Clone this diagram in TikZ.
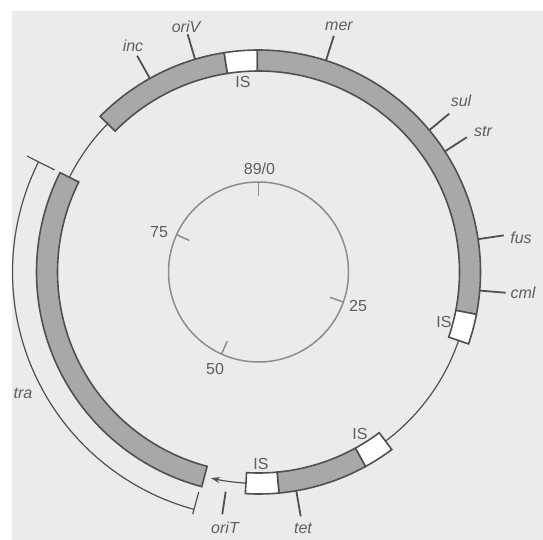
\documentclass[tikz,border=0pt]{standalone}
\usepackage{fontspec}
\setmainfont{Liberation Sans}
\usetikzlibrary{arrows.meta}
\definecolor{bg}{HTML}{EBEBEB}
\definecolor{bandfill}{HTML}{A8A8A8}
\definecolor{ink}{HTML}{505050}
\definecolor{txt}{HTML}{5E5E5E}
\definecolor{innerc}{HTML}{8C8C8C}
\newcommand\annseg[3]{\filldraw[band,fill=#3] (#1:222pt) arc[start angle=#1,end angle=#2,radius=222pt] -- (#2:201pt) arc[start angle=#2,end angle=#1,radius=201pt] -- cycle;}
\begin{document}
\begin{tikzpicture}[
  lbl/.style={font=\fontsize{16}{18}\selectfont, text=txt, inner sep=0pt, anchor=base},
  gene/.style={lbl, font=\fontsize{16}{18}\selectfont\itshape},
  band/.style={draw=ink, line width=1.6pt, line join=miter},
  thinline/.style={draw=ink, line width=1.2pt},
  gtick/.style={draw=ink, line width=1.8pt},
  innertick/.style={draw=innerc, line width=1.5pt}
]
\fill[white] (0,0) rectangle (543pt,-540pt);
\fill[bg] (12pt,-11pt) rectangle (543pt,-540pt);
\useasboundingbox (0,0) rectangle (543pt,-540pt);
\begin{scope}[shift={(258.5pt,-272pt)}]
  % backbone thin lines
  \draw[thinline] (135.5:211.5pt) arc[start angle=135.5,end angle=153.4,radius=211.5pt];
  \draw[thinline] (-19:211.5pt) arc[start angle=-19,end angle=-53.1,radius=211.5pt];
  \draw[thinline,-{Stealth[length=9pt,width=6pt]}] (-93.4:211.5pt) arc[start angle=-93.4,end angle=-103,radius=211.5pt];
  % bands
  \annseg{98.9}{135.5}{bandfill}
  \annseg{90.3}{98.9}{white}
  \annseg{-11}{90.3}{bandfill}
  \annseg{-18.9}{-11}{white}
  \annseg{-61.2}{-53.1}{white}
  \annseg{-84.7}{-61.2}{bandfill}
  \annseg{-93.4}{-84.7}{white}
  \annseg{153.4}{255.2}{bandfill}
  % gene ticks
  \foreach \a in {119.3,106.6,72.3,39.7,32.9,8.5,-4.8,-80.2}
    \draw[gtick] (\a:222pt) -- (\a:248pt);
  \draw[gtick] (-98.5:222pt) -- (-98.5:245pt);
  % tra bracket
  \draw[thinline] (153.4:246pt) arc[start angle=153.4,end angle=254.8,radius=246pt];
  \draw[thinline] (153.4:228pt) -- (153.4:259pt);
  \draw[thinline] (254.8:228pt) -- (254.8:251pt);
  % inner map circle
  \draw[innertick] (0,0) circle[radius=90pt];
  \foreach \a in {90,155.5,-19.5,-114.3}
    \draw[innertick] (\a:90pt) -- (\a:76pt);
\end{scope}
% labels
\node[gene] (inc) at (133pt,-52pt) {inc};
\node[gene] (oriV) at (186pt,-33pt) {oriV};
\node[gene] (mer) at (339pt,-31pt) {mer};
\node[lbl] (is1) at (243pt,-88pt) {IS};
\node[gene] (sul) at (461pt,-107pt) {sul};
\node[gene] (str) at (483pt,-137pt) {str};
\node[gene] (fus) at (521pt,-243pt) {fus};
\node[gene] (cml) at (523pt,-298pt) {cml};
\node[lbl] (is2) at (444pt,-327pt) {IS};
\node[lbl] (is3) at (360pt,-439pt) {IS};
\node[lbl] (is4) at (261pt,-469pt) {IS};
\node[gene] (tet) at (303pt,-533pt) {tet};
\node[gene] (oriT) at (225pt,-533pt) {oriT};
\node[gene] (tra) at (23pt,-398pt) {tra};
\node[lbl] (m0) at (259.5pt,-175pt) {89/0};
\node[lbl] (m75) at (159pt,-237pt) {75};
\node[lbl] (m25) at (358pt,-311pt) {25};
\node[lbl] (m50) at (215pt,-374pt) {50};
\end{tikzpicture}
\end{document}
